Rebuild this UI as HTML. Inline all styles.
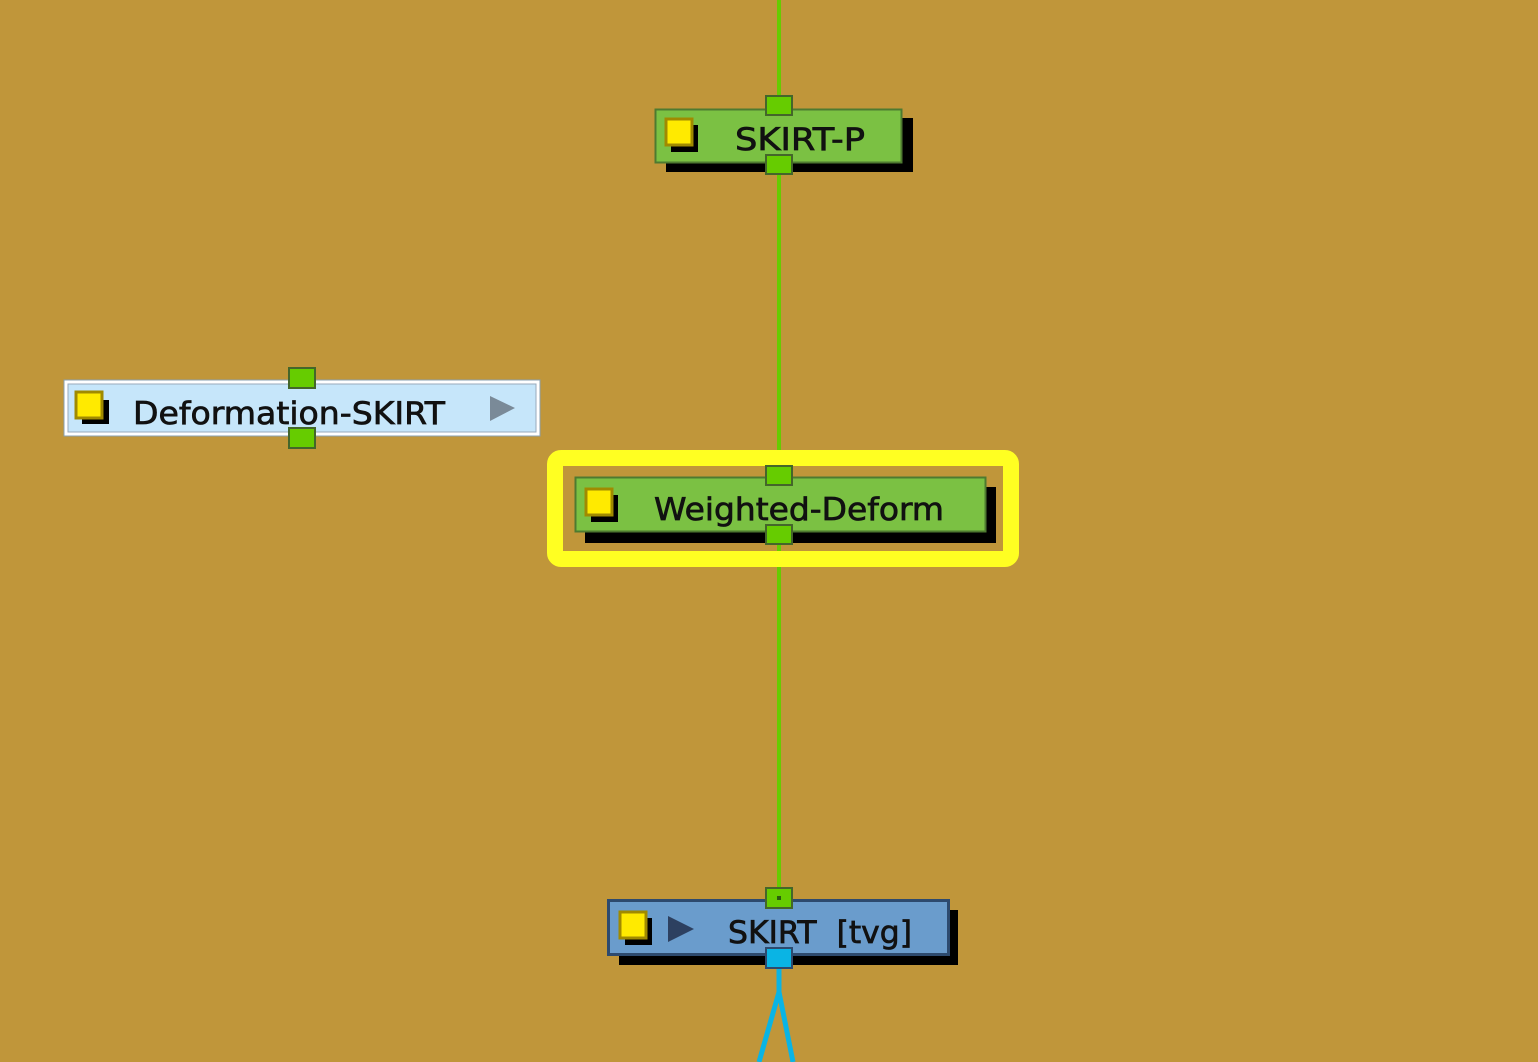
<!DOCTYPE html>
<html><head><style>html,body{margin:0;padding:0;background:#c0963a;}svg{display:block}</style></head>
<body>
<svg width="1538" height="1062" viewBox="0 0 1538 1062" xmlns="http://www.w3.org/2000/svg" font-family="DejaVu Sans, Liberation Sans, sans-serif">
<rect width="1538" height="1062" fill="#c0963a"/>
<rect x="777" y="0" width="4" height="900" fill="#66cc00"/>
<path d="M779 968 L779 992 L759 1062 M779 992 L793 1062" stroke="#0ab4e4" stroke-width="5" fill="none"/>

<!-- SKIRT-P -->
<rect x="666" y="118" width="247" height="54" fill="#000"/>
<rect x="655.5" y="109.5" width="246" height="53" fill="#7bc143" stroke="#4e7a30" stroke-width="2"/>
<rect x="671" y="125" width="27" height="27" fill="#000"/>
<rect x="666" y="119" width="26" height="26" fill="#ffea00" stroke="#a08a00" stroke-width="3"/>
<text x="735" y="150" font-size="31" textLength="130" lengthAdjust="spacingAndGlyphs" fill="#111" stroke="#111" stroke-width="0.7">SKIRT-P</text>
<rect x="766" y="96" width="26" height="19" fill="#66cc00" stroke="#44662a" stroke-width="2"/>
<rect x="766" y="155" width="26" height="19" fill="#66cc00" stroke="#44662a" stroke-width="2"/>

<!-- Deformation-SKIRT -->
<rect x="64" y="380" width="476" height="56" fill="#ffffff" stroke="#8aa0b0" stroke-width="1"/>
<rect x="68" y="384" width="468" height="48" fill="#c6e6fa" stroke="#9ab" stroke-width="1"/>
<rect x="82" y="400" width="27" height="24" fill="#000"/>
<rect x="76" y="392" width="26" height="26" fill="#ffea00" stroke="#a08a00" stroke-width="3"/>
<text x="133" y="424" font-size="31" textLength="312" lengthAdjust="spacingAndGlyphs" fill="#111" stroke="#111" stroke-width="0.7">Deformation-SKIRT</text>
<polygon points="490,396 515,408 490,421" fill="#7a8a98"/>
<rect x="289" y="368" width="26" height="20" fill="#66cc00" stroke="#44662a" stroke-width="2"/>
<rect x="289" y="428" width="26" height="20" fill="#66cc00" stroke="#44662a" stroke-width="2"/>

<!-- highlight -->
<rect x="555" y="458" width="456" height="101" rx="6" fill="none" stroke="#ffff22" stroke-width="16"/>
<!-- Weighted-Deform -->
<rect x="585" y="487" width="411" height="56" fill="#000"/>
<rect x="575.5" y="477.5" width="410" height="54" fill="#7bc143" stroke="#4e7a30" stroke-width="2"/>
<rect x="591" y="495" width="27" height="27" fill="#000"/>
<rect x="586" y="489" width="26" height="26" fill="#ffea00" stroke="#a08a00" stroke-width="3"/>
<text x="654" y="520" font-size="31" textLength="290" lengthAdjust="spacingAndGlyphs" fill="#111" stroke="#111" stroke-width="0.7">Weighted-Deform</text>
<rect x="766" y="466" width="26" height="19" fill="#66cc00" stroke="#44662a" stroke-width="2"/>
<rect x="766" y="525" width="26" height="19" fill="#66cc00" stroke="#44662a" stroke-width="2"/>

<!-- SKIRT [tvg] -->
<rect x="619" y="910" width="339" height="55" fill="#000"/>
<rect x="608.5" y="900.5" width="340" height="54" fill="#6a9ccc" stroke="#2d4a6e" stroke-width="3"/>
<rect x="625" y="918" width="27" height="27" fill="#000"/>
<rect x="620" y="912" width="26" height="26" fill="#ffea00" stroke="#a08a00" stroke-width="3"/>
<polygon points="668,916 694,929 668,942" fill="#2d4060"/>
<text x="728" y="943" font-size="31" textLength="184" lengthAdjust="spacingAndGlyphs" fill="#111" stroke="#111" stroke-width="0.7" xml:space="preserve">SKIRT  [tvg]</text>
<rect x="766" y="888" width="26" height="20" fill="#66cc00" stroke="#44662a" stroke-width="2"/>
<rect x="777" y="896" width="4" height="4" fill="#2a5a10"/>
<rect x="766" y="948" width="26" height="20" fill="#0ab4e4" stroke="#2d4a6e" stroke-width="2"/>
</svg>
</body></html>
